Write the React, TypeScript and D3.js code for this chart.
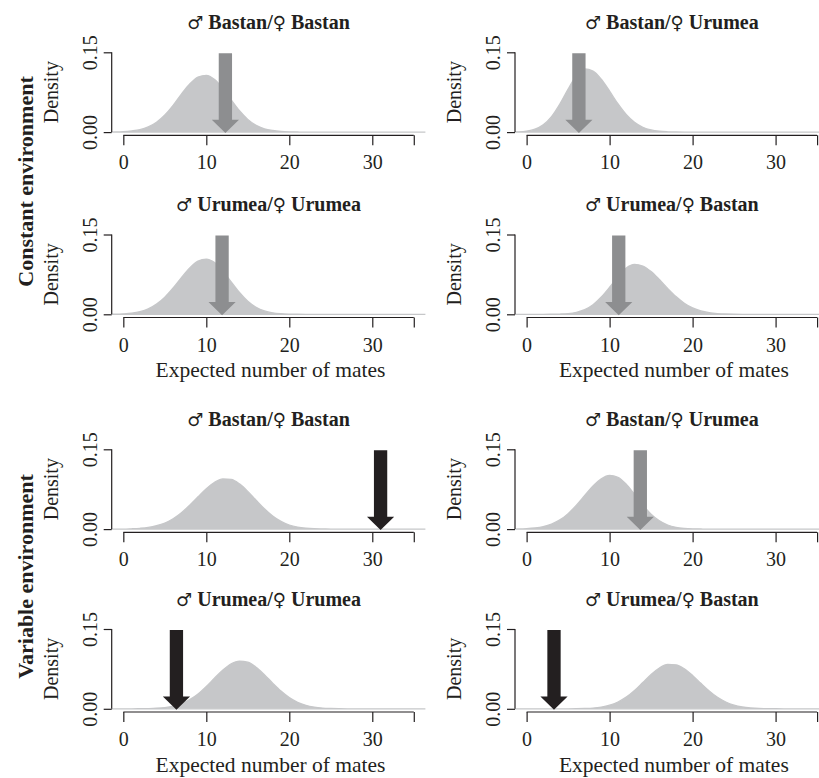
import React, { useEffect, useRef } from 'react';
import * as d3 from 'd3';

// sampling grid of the density estimates (expected number of mates, -2 .. 37)
const gridX = d3.range(-2, 38);

// panel order: row by row, left then right
const maleOrigin = ['Bastan', 'Bastan', 'Urumea', 'Urumea', 'Bastan', 'Bastan', 'Urumea', 'Urumea'];
const femaleOrigin = ['Bastan', 'Urumea', 'Urumea', 'Bastan', 'Bastan', 'Urumea', 'Urumea', 'Bastan'];
const environments = ['Constant environment', 'Variable environment'];

// observed value (arrow) and whether it falls outside the null distribution (black arrow)
const observedMates = [12.3, 6.3, 11.9, 11.1, 31.0, 13.7, 6.4, 3.3];
const outsideNull = [false, false, false, false, true, false, true, true];

// densities, one value per gridX point
const densConstBB = [0, .0002, .0008, .0022, .0045, .0097, .0186, .0322, .0503, .0714, .0904, .1035, .1068, .0988, .0818, .0606, .0401, .0239, .0127, .0062, .0030, .0013, .0005, .0002, 0, 0, 0, 0, 0, 0, 0, 0, 0, 0, 0, 0, 0, 0, 0, 0];
const densConstBU = [.0001, .0005, .0019, .0055, .0137, .0290, .0525, .0808, .1060, .1186, .1148, .0994, .0770, .0533, .0331, .0183, .0091, .0040, .0016, .0006, .0002, 0, 0, 0, 0, 0, 0, 0, 0, 0, 0, 0, 0, 0, 0, 0, 0, 0, 0, 0];
const densConstUU = [0, .0002, .0009, .0022, .0049, .0101, .0191, .0322, .0494, .0690, .0872, .0999, .1039, .0972, .0814, .0609, .0409, .0245, .0132, .0063, .0027, .0011, .0004, .0001, 0, 0, 0, 0, 0, 0, 0, 0, 0, 0, 0, 0, 0, 0, 0, 0];
const densConstUB = [0, 0, 0, 0, 0, .0001, .0005, .0014, .0037, .0087, .0180, .0324, .0508, .0710, .0871, .0939, .0908, .0804, .0653, .0487, .0333, .0209, .0120, .0063, .0031, .0014, .0006, .0002, 0, 0, 0, 0, 0, 0, 0, 0, 0, 0, 0, 0];
const densVarBB = [0, 0, 0, .0006, .0015, .0031, .0063, .0114, .0195, .0308, .0451, .0608, .0761, .0880, .0944, .0936, .0850, .0709, .0542, .0381, .0244, .0144, .0077, .0039, .0018, .0007, .0003, .0001, 0, 0, 0, 0, 0, 0, 0, 0, 0, 0, 0, 0];
const densVarBU = [0, .0002, .0008, .0021, .0046, .0094, .0173, .0291, .0450, .0631, .0809, .0945, .1008, .0975, .0844, .0653, .0453, .0281, .0156, .0077, .0034, .0014, .0005, .0002, 0, 0, 0, 0, 0, 0, 0, 0, 0, 0, 0, 0, 0, 0, 0, 0];
const densVarUU = [0, 0, 0, 0, .0001, .0004, .0010, .0023, .0049, .0095, .0172, .0279, .0420, .0578, .0730, .0846, .0898, .0876, .0782, .0641, .0482, .0333, .0210, .0122, .0065, .0032, .0014, .0006, .0002, 0, 0, 0, 0, 0, 0, 0, 0, 0, 0, 0];
const densVarUB = [0, 0, 0, 0, 0, 0, 0, 0, .0002, .0006, .0014, .0033, .0068, .0128, .0219, .0345, .0494, .0644, .0768, .0834, .0827, .0752, .0627, .0479, .0337, .0216, .0128, .0068, .0034, .0016, .0006, .0003, .0001, 0, 0, 0, 0, 0, 0, 0];

const densities = [densConstBB, densConstBU, densConstUU, densConstUB, densVarBB, densVarBU, densVarUU, densVarUB];

const xTicks = [0, 10, 20, 30, 35];
const xTickLabels = ['0', '10', '20', '30', ''];
const yTicks = [0, 0.15];
const yTickLabels = ['0.00', '0.15'];

const FONT = "'Liberation Serif', 'Times New Roman', serif";
const SYMBOL_FONT = "'DejaVu Sans', sans-serif";
const INK = '#231f20';
const DENS_FILL = '#c6c7c9';
const GREY_ARROW = '#8d8e90';

const App = () => {
  const svgRef = useRef<SVGSVGElement | null>(null);

  useEffect(() => {
    if (svgRef.current) drawChart();
  }, []);

  const drawChart = () => {
    const svg = d3.select(svgRef.current);
    svg.selectAll('*').remove();
    const defs = svg.append('defs');

    // layout of the 4 x 2 grid
    const colLeft = [111.7, 515];
    const rowTop = [52.3, 234.5, 449.3, 629];
    const plotW = 313.7;
    const plotH = 79.8;

    densities.forEach((dens, i) => {
      const row = Math.floor(i / 2);
      const col = i % 2;
      const x = d3.scaleLinear().domain([-1.4, 36.4]).range([colLeft[col], colLeft[col] + plotW]);
      const y = d3.scaleLinear().domain([0, 0.15]).range([rowTop[row] + plotH, rowTop[row]]);
      const g = svg.append('g');

      defs.append('clipPath').attr('id', `clip-${i}`)
        .append('rect')
        .attr('x', colLeft[col]).attr('y', rowTop[row] - 10)
        .attr('width', plotW).attr('height', plotH + 14);

      // density
      const area = d3.area<number>()
        .x((d, k) => x(gridX[k]))
        .y0(y(0))
        .y1(d => y(d))
        .curve(d3.curveMonotoneX);
      g.append('path')
        .datum(dens)
        .attr('d', area)
        .attr('fill', DENS_FILL)
        .attr('stroke', DENS_FILL)
        .attr('stroke-width', 1.3)
        .attr('clip-path', `url(#clip-${i})`);

      // arrow for the observed value
      const cx = x(observedMates[i]);
      const top = y(0.148);
      const tip = y(0) + 1;
      const headBase = tip - 13.3;
      const sw = 6.65, hw = 13.6;
      const arrowPts: [number, number][] = [
        [cx - sw, top], [cx + sw, top], [cx + sw, headBase], [cx + hw, headBase],
        [cx, tip], [cx - hw, headBase], [cx - sw, headBase]
      ];
      g.append('path')
        .attr('d', d3.line()(arrowPts) + 'Z')
        .attr('fill', outsideNull[i] ? INK : GREY_ARROW);

      // x axis
      const axisY = y(-0.006);
      const xAxis = g.append('g')
        .attr('transform', `translate(0, ${axisY})`)
        .call(d3.axisBottom(x).tickValues(xTicks).tickSize(10).tickPadding(10)
          .tickFormat((d, k) => xTickLabels[k]));
      xAxis.select('.domain').remove();
      xAxis.append('line')
        .attr('x1', x(0)).attr('x2', x(35))
        .attr('stroke', INK).attr('stroke-width', 1.2);
      xAxis.selectAll('.tick line').attr('stroke', INK).attr('stroke-width', 1.2);
      xAxis.selectAll('text')
        .attr('fill', INK)
        .style('font-family', FONT)
        .style('font-size', '20px');

      // y axis
      const yAxis = g.append('g')
        .attr('transform', `translate(${colLeft[col]}, 0)`)
        .call(d3.axisLeft(y).tickValues(yTicks).tickSize(8)
          .tickFormat((d, k) => yTickLabels[k]));
      yAxis.select('.domain').remove();
      yAxis.append('line')
        .attr('y1', y(0)).attr('y2', y(0.15))
        .attr('stroke', INK).attr('stroke-width', 1.2);
      yAxis.selectAll('.tick line').attr('stroke', INK).attr('stroke-width', 1.2);
      yAxis.selectAll('text')
        .attr('transform', 'rotate(-90)')
        .attr('x', 0).attr('y', -15).attr('dy', null)
        .attr('text-anchor', 'middle')
        .attr('fill', INK)
        .style('font-family', FONT)
        .style('font-size', '20px');

      g.append('text')
        .attr('transform', `translate(${colLeft[col] - 54}, ${y(0.075)}) rotate(-90)`)
        .attr('text-anchor', 'middle')
        .attr('fill', INK)
        .style('font-family', FONT)
        .style('font-size', '20px')
        .text('Density');

      // title
      const title = g.append('text')
        .attr('x', colLeft[col] + plotW / 2)
        .attr('y', rowTop[row] - 23.5)
        .attr('text-anchor', 'middle')
        .attr('fill', INK)
        .style('font-family', FONT)
        .style('font-size', '20px')
        .style('font-weight', 'bold');
      title.append('tspan').style('font-family', SYMBOL_FONT).style('font-weight', 'normal').style('font-size', '18px').text('♂');
      title.append('tspan').text(` ${maleOrigin[i]}/`);
      title.append('tspan').style('font-family', SYMBOL_FONT).style('font-weight', 'normal').style('font-size', '18px').text('♀');
      title.append('tspan').text(` ${femaleOrigin[i]}`);

      // x label on the lower row of each block
      if (row % 2 === 1) {
        g.append('text')
          .attr('x', colLeft[col] + plotW / 2 + 2)
          .attr('y', axisY + 60)
          .attr('text-anchor', 'middle')
          .attr('fill', INK)
          .style('font-family', FONT)
          .style('font-size', '21.5px')
          .text('Expected number of mates');
      }
    });

    // environment labels
    const envCenters = [181.5, 576.5];
    environments.forEach((label, k) => {
      svg.append('text')
        .attr('transform', `translate(33, ${envCenters[k]}) rotate(-90)`)
        .attr('text-anchor', 'middle')
        .attr('fill', INK)
        .style('font-family', FONT)
        .style('font-size', '22px')
        .style('font-weight', 'bold')
        .text(label);
    });
  };

  return (
    <svg
      ref={svgRef}
      width={819}
      height={778}
      style={{ position: 'absolute', left: 0, top: 0, background: '#fff' }}
    />
  );
};

export default App;
